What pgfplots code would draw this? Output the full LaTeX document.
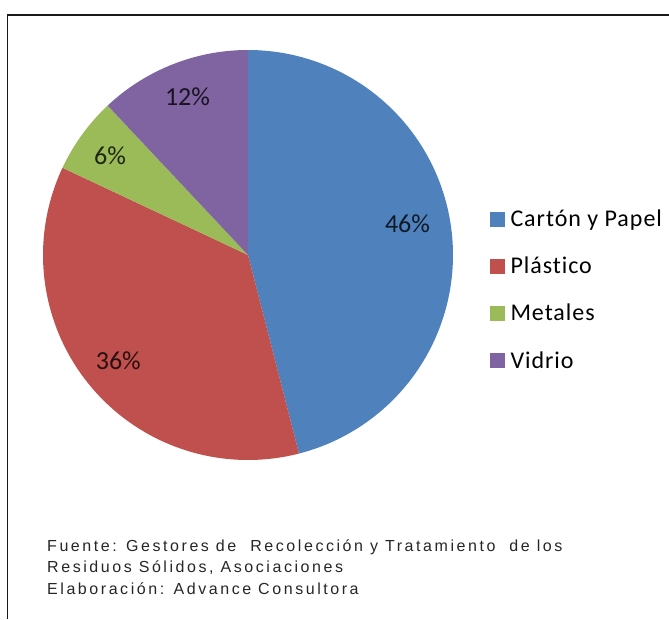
\documentclass[border=0pt]{standalone}
\usepackage{pgfplots}
\pgfplotsset{compat=1.18}
\usepackage{pgfplotstable}
\usepackage{fontspec}
\setmainfont{Carlito}
\newfontfamily\carlitoL{Carlito}[LetterSpace=4,Ligatures=NoCommon]
\newfontfamily\carlito{Carlito}[Ligatures=NoCommon]
\newfontfamily\srcfont{Liberation Sans}[LetterSpace=16,Ligatures=NoCommon]
\definecolor{cblue}{HTML}{4F81BD}
\definecolor{cred}{HTML}{C0504D}
\definecolor{cgreen}{HTML}{9BBB59}
\definecolor{cpurple}{HTML}{8064A2}
\pgfplotstableread{
label value
Carton 46
Plastico 36
Metales 6
Vidrio 12
}\piedata
\begin{document}%
\begin{tikzpicture}[x=1pt,y=1pt]
\pgfplotstablegetelem{0}{value}\of\piedata \let\vA\pgfplotsretval
\pgfplotstablegetelem{1}{value}\of\piedata \let\vB\pgfplotsretval
\pgfplotstablegetelem{2}{value}\of\piedata \let\vC\pgfplotsretval
\pgfplotstablegetelem{3}{value}\of\piedata \let\vD\pgfplotsretval
\pgfmathsetmacro\tot{\vA+\vB+\vC+\vD}
\pgfmathsetmacro\aO{90}
\pgfmathsetmacro\aA{\aO-\vA/\tot*360}
\pgfmathsetmacro\aB{\aA-\vB/\tot*360}
\pgfmathsetmacro\aC{\aB-\vC/\tot*360}
\pgfmathsetmacro\aD{\aC-\vD/\tot*360}
\draw[line width=1.6pt, black!90] (7.3,0) -- (7.3,604.2) -- (669,604.2);
\begin{axis}[
  at={(0,0)}, anchor=origin,
  x=1pt, y=1pt,
  xmin=0, xmax=669, ymin=0, ymax=619,
  hide axis, clip=false,
  legend image code/.code={\draw[#1,draw=none] (0pt,-7.5pt) rectangle (15pt,7.5pt);},
  legend style={at={(axis cs:490,407.3)}, anchor=north west, draw=none, fill=none,
    inner sep=0pt, outer sep=0pt, row sep=32.1pt, column sep=5.5pt,
    font=\carlitoL\fontsize{24}{28}\selectfont,
    nodes={inner sep=0pt, text height=15pt, text depth=0pt},
    cells={anchor=west}},
]
\addplot[fill=cblue, draw=none, domain=\aA:\aO, samples=120, variable=\t]
  ({248+205*cos(\t)},{364+205*sin(\t)}) -- (axis cs:248,364) -- cycle;
\addlegendentry{Cartón y Papel}
\addplot[fill=cred, draw=none, domain=\aB:\aA, samples=120, variable=\t]
  ({248+205*cos(\t)},{364+205*sin(\t)}) -- (axis cs:248,364) -- cycle;
\addlegendentry{Plástico}
\addplot[fill=cgreen, draw=none, domain=\aC:\aB, samples=40, variable=\t]
  ({248+205*cos(\t)},{364+205*sin(\t)}) -- (axis cs:248,364) -- cycle;
\addlegendentry{Metales}
\addplot[fill=cpurple, draw=none, domain=\aD:\aC, samples=60, variable=\t]
  ({248+205*cos(\t)},{364+205*sin(\t)}) -- (axis cs:248,364) -- cycle;
\addlegendentry{Vidrio}
\tikzset{pl/.style={font=\carlito\fontsize{26}{30}\selectfont, inner sep=0pt, text height=16.5pt, text depth=0pt, anchor=center}}
\node[pl, text=cblue!20!black] at (axis cs:407.5,395) {46\%};
\node[pl, text=cred!20!black] at (axis cs:118.3,258) {36\%};
\node[pl, text=cgreen!20!black] at (axis cs:110,463) {6\%};
\node[pl, text=cpurple!20!black] at (axis cs:187.5,521.5) {12\%};
\tikzset{src/.style={font=\srcfont\fontsize{16}{19}\selectfont, inner sep=0pt, anchor=base west, text=black!85}}
\node[src] at (axis cs:47,68) {Fuente: Gestores de~ Recolección y Tratamiento~ de los};
\node[src] at (axis cs:47,46.3) {Residuos Sólidos, Asociaciones};
\node[src] at (axis cs:47,24.7) {Elaboración: Advance Consultora};
\end{axis}
\pgfresetboundingbox
\path[use as bounding box] (0,0) rectangle (669,619);
\end{tikzpicture}%
\end{document}
